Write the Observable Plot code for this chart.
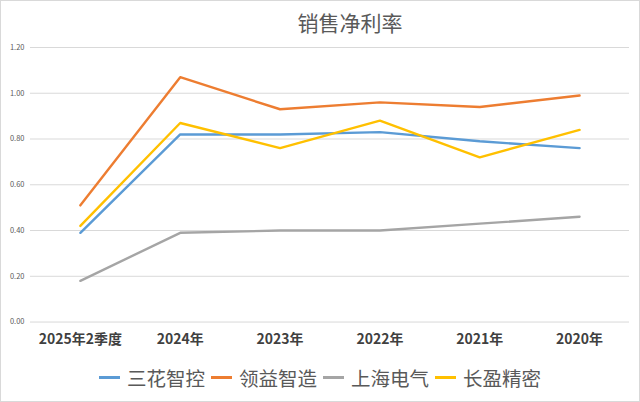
<!DOCTYPE html>
<html><head><meta charset="utf-8">
<script src="https://cdn.jsdelivr.net/npm/d3@7"></script>
<script src="https://cdn.jsdelivr.net/npm/@observablehq/plot@0.6"></script>
<style>
html,body{margin:0;padding:0;background:#fff;}
#wrap{position:relative;width:638px;height:400px;border:1px solid #d9d9d9;overflow:hidden;font-family:"Noto Sans CJK SC","Noto Sans",sans-serif;}
#title{position:absolute;left:0;width:100%;top:6px;text-align:center;font-size:21px;color:#595959;margin-left:30px;}
#chart{position:absolute;left:-1px;top:38px;}
#legend{position:absolute;left:0;width:100%;top:362px;display:flex;justify-content:center;align-items:center;font-size:19.5px;color:#595959;}
#legend .it{display:flex;align-items:center;margin:0 3px;}
#legend .sw{display:inline-block;width:21px;height:3px;margin-right:7px;}
</style></head>
<body>
<div id="wrap">
<div id="title">销售净利率</div>
<div id="chart"></div>
<div id="legend"></div>
</div>
<script>
const categories = ["2025年2季度","2024年","2023年","2022年","2021年","2020年"];
const seriesNames = ["三花智控","领益智造","上海电气","长盈精密"];
const sanhua   = [0.39,0.82,0.82,0.83,0.79,0.76];
const lingyi   = [0.51,1.07,0.93,0.96,0.94,0.99];
const shanghai = [0.18,0.39,0.40,0.40,0.43,0.46];
const changying= [0.42,0.87,0.76,0.88,0.72,0.84];
const yTicks = [0,0.2,0.4,0.6,0.8,1.0,1.2];
const colors = ["#5B9BD5","#ED7D31","#A5A5A5","#FFC000"];

const seriesValues = [sanhua, lingyi, shanghai, changying];
const data = [];
seriesNames.forEach((s,i)=>categories.forEach((c,j)=>data.push({series:s,cat:c,value:seriesValues[i][j]})));

const plot = Plot.plot({
  width: 640,
  height: 316,
  marginLeft: 30,
  marginRight: 10,
  marginTop: 8,
  marginBottom: 33,
  style: {fontFamily: '"Noto Sans CJK SC","Noto Sans",sans-serif', background: "transparent"},
  x: {type: "point", domain: categories, padding: 0.5, label: null},
  y: {domain: [0,1.2], label: null},
  color: {domain: seriesNames, range: colors},
  marks: [
    Plot.gridY(yTicks, {stroke: "#d9d9d9", strokeOpacity: 1, strokeWidth: 1}),
    Plot.axisY(yTicks, {tickSize: 0, tickPadding: 6, tickFormat: d3.format(".2f"), fontSize: 7.5, fill: "#595959", label: null}),
    Plot.axisX({tickSize: 0, tickPadding: 12, fontSize: 14, fontWeight: "bold", fill: "#404040", label: null}),
    Plot.line(data, {x: "cat", y: "value", z: "series", stroke: "series", strokeWidth: 2.4, strokeLinejoin: "round", strokeLinecap: "round"})
  ]
});
document.getElementById("chart").appendChild(plot);

const lg = document.getElementById("legend");
seriesNames.forEach((s,i)=>{
  const it = document.createElement("span"); it.className="it";
  const sw = document.createElement("span"); sw.className="sw"; sw.style.background=colors[i];
  it.appendChild(sw); it.appendChild(document.createTextNode(s));
  lg.appendChild(it);
});
</script>
</body></html>
